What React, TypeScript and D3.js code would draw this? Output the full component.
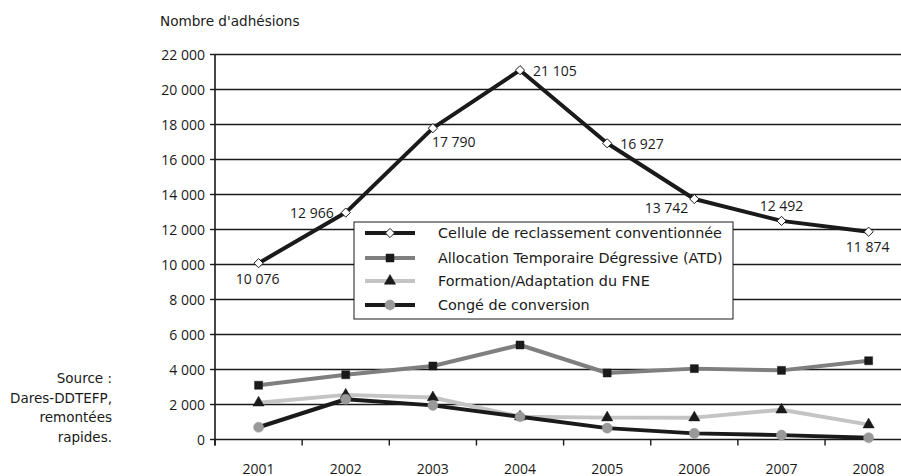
import React from 'react';
import * as d3 from 'd3';

const years = ['2001', '2002', '2003', '2004', '2005', '2006', '2007', '2008'];
const cellule = [10076, 12966, 17790, 21105, 16927, 13742, 12492, 11874];
const atd = [3100, 3700, 4200, 5400, 3800, 4050, 3950, 4500];
const formation = [2100, 2550, 2400, 1300, 1250, 1250, 1700, 850];
const conge = [700, 2300, 1950, 1300, 650, 350, 250, 100];
const seriesNames = [
  'Cellule de reclassement conventionnée',
  'Allocation Temporaire Dégressive (ATD)',
  'Formation/Adaptation du FNE',
  'Congé de conversion',
];
const yTicks = [0, 2000, 4000, 6000, 8000, 10000, 12000, 14000, 16000, 18000, 20000, 22000];
const celluleLabelPlacement = ['below', 'left', 'belowRight', 'right', 'right', 'belowLeft', 'above', 'below'];
const sourceLines = ['Source :', 'Dares-DDTEFP,', 'remontées', 'rapides.'];
const yTitle = "Nombre d'adhésions";

const W = 901;
const H = 476;
const X0 = 215;
const X1 = 912.2;
const Y0 = 439.5;
const Y1 = 54.5;

const AX_FONT = "'Open Sans', sans-serif";
const TXT_FONT = "'DejaVu Sans', sans-serif";

const fmt = (v: number) => d3.format(',')(v).replace(/,/g, ' ');

type Marker = 'diamond' | 'square' | 'triangle' | 'circle';

const seriesStyle: { data: number[]; color: string; marker: Marker; mFill: string; mStroke: string }[] = [
  { data: cellule, color: '#1a1a1a', marker: 'diamond', mFill: '#ffffff', mStroke: '#1a1a1a' },
  { data: atd, color: '#7f7f7f', marker: 'square', mFill: '#1a1a1a', mStroke: '#1a1a1a' },
  { data: formation, color: '#c4c4c4', marker: 'triangle', mFill: '#1a1a1a', mStroke: '#1a1a1a' },
  { data: conge, color: '#1a1a1a', marker: 'circle', mFill: '#999999', mStroke: '#999999' },
];

function markerPath(m: Marker): string {
  if (m === 'diamond') {
    const r = 4.6;
    const p = d3.path();
    p.moveTo(0, -r);
    p.lineTo(r, 0);
    p.lineTo(0, r);
    p.lineTo(-r, 0);
    p.closePath();
    return p.toString();
  }
  const sym = m === 'square' ? d3.symbolSquare : m === 'triangle' ? d3.symbolTriangle : d3.symbolCircle;
  const size = m === 'square' ? 64 : m === 'triangle' ? 55 : 80;
  return d3.symbol(sym, size)() as string;
}

export default function App() {
  const x = d3.scaleBand<string>().domain(years).range([X0, X1]).padding(0);
  const y = d3.scaleLinear().domain([0, 22000]).range([Y0, Y1]);
  const cx = (i: number) => (x(years[i]) as number) + x.bandwidth() / 2;

  const line = d3
    .line<number>()
    .x((_, i) => cx(i))
    .y((d) => y(d));

  const boundaries = years.map((yr) => x(yr) as number).concat([X1]);

  const labelProps = (i: number) => {
    const px = cx(i);
    const py = y(cellule[i]);
    switch (celluleLabelPlacement[i]) {
      case 'below':
        return { x: px - 1, y: py + 15, anchor: 'middle' };
      case 'left':
        return { x: px - 12, y: py, anchor: 'end' };
      case 'belowRight':
        return { x: px - 1, y: py + 13, anchor: 'start' };
      case 'right':
        return { x: px + 13, y: py, anchor: 'start' };
      case 'belowLeft':
        return { x: px - 6, y: py + 8, anchor: 'end' };
      case 'above':
      default:
        return { x: px, y: py - 15, anchor: 'middle' };
    }
  };

  const legend = { x: 354, y: 222, w: 379, h: 97 };

  return (
    <svg
      width={W}
      height={H}
      style={{ position: 'absolute', left: 0, top: 0, background: '#fff' }}
      xmlns="http://www.w3.org/2000/svg"
    >
      <rect x={0} y={0} width={W} height={H} fill="#fff" />
      {/* title */}
      <text x={160} y={21} fontFamily={TXT_FONT} fontSize={13.6} fill="#1a1a1a" dominantBaseline="central">
        {yTitle}
      </text>

      {/* gridlines */}
      {yTicks
        .filter((t) => t > 0)
        .map((t) => (
          <line key={t} x1={X0} x2={W} y1={y(t)} y2={y(t)} stroke="#1a1a1a" strokeWidth={1.5} />
        ))}

      {/* y axis */}
      <line x1={X0} x2={X0} y1={Y1 - 0.5} y2={Y0 + 6} stroke="#1a1a1a" strokeWidth={1.6} />
      {yTicks.map((t) => (
        <g key={'yt' + t}>
          <line x1={X0 - 5} x2={X0} y1={y(t)} y2={y(t)} stroke="#1a1a1a" strokeWidth={1.4} />
          <text
            x={205}
            y={y(t)}
            textAnchor="end"
            dominantBaseline="central"
            fontFamily={AX_FONT}
            fontSize={14}
            fill="#1a1a1a"
          >
            {fmt(t)}
          </text>
        </g>
      ))}

      {/* x axis */}
      <line x1={X0} x2={W} y1={Y0} y2={Y0} stroke="#1a1a1a" strokeWidth={1.6} />
      {boundaries.map((b, i) => (
        <line key={'xt' + i} x1={b} x2={b} y1={Y0} y2={Y0 + 6} stroke="#1a1a1a" strokeWidth={1.4} />
      ))}
      {years.map((yr, i) => (
        <text
          key={yr}
          x={cx(i)}
          y={468}
          textAnchor="middle"
          dominantBaseline="central"
          fontFamily={AX_FONT}
          fontSize={14}
          fill="#1a1a1a"
        >
          {yr}
        </text>
      ))}

      {/* series lines */}
      {seriesStyle.map((s, k) => (
        <path
          key={'l' + k}
          d={line(s.data) as string}
          fill="none"
          stroke={s.color}
          strokeWidth={4}
          strokeLinejoin="round"
        />
      ))}
      {/* markers */}
      {seriesStyle.map((s, k) =>
        s.data.map((v, i) => (
          <path
            key={'m' + k + '-' + i}
            d={markerPath(s.marker)}
            transform={`translate(${cx(i)},${y(v)})`}
            fill={s.mFill}
            stroke={s.mStroke}
            strokeWidth={s.marker === 'diamond' ? 1 : 0.5}
          />
        ))
      )}

      {/* data labels */}
      {cellule.map((v, i) => {
        const p = labelProps(i);
        return (
          <text
            key={'dl' + i}
            x={p.x}
            y={p.y}
            textAnchor={p.anchor as any}
            dominantBaseline="central"
            fontFamily={AX_FONT}
            fontSize={14}
            fill="#1a1a1a"
          >
            {fmt(v)}
          </text>
        );
      })}

      {/* legend */}
      <rect x={legend.x} y={legend.y} width={legend.w} height={legend.h} fill="#fff" stroke="#1a1a1a" strokeWidth={1} />
      {seriesStyle.map((s, k) => {
        const ry = [233, 258, 281, 305][k];
        return (
          <g key={'lg' + k}>
            <line x1={365} x2={415} y1={ry} y2={ry} stroke={s.color} strokeWidth={4} />
            <path
              d={markerPath(s.marker)}
              transform={`translate(390,${ry})`}
              fill={s.mFill}
              stroke={s.mStroke}
              strokeWidth={s.marker === 'diamond' ? 1 : 0.5}
            />
            <text x={438} y={ry} dominantBaseline="central" fontFamily={TXT_FONT} fontSize={14.4} fill="#1a1a1a">
              {seriesNames[k]}
            </text>
          </g>
        );
      })}

      {/* source */}
      {sourceLines.map((t, i) => (
        <text
          key={'src' + i}
          x={112}
          y={378 + i * 19.7}
          textAnchor="end"
          dominantBaseline="central"
          fontFamily={TXT_FONT}
          fontSize={13.5}
          fill="#1a1a1a"
        >
          {t}
        </text>
      ))}
    </svg>
  );
}
